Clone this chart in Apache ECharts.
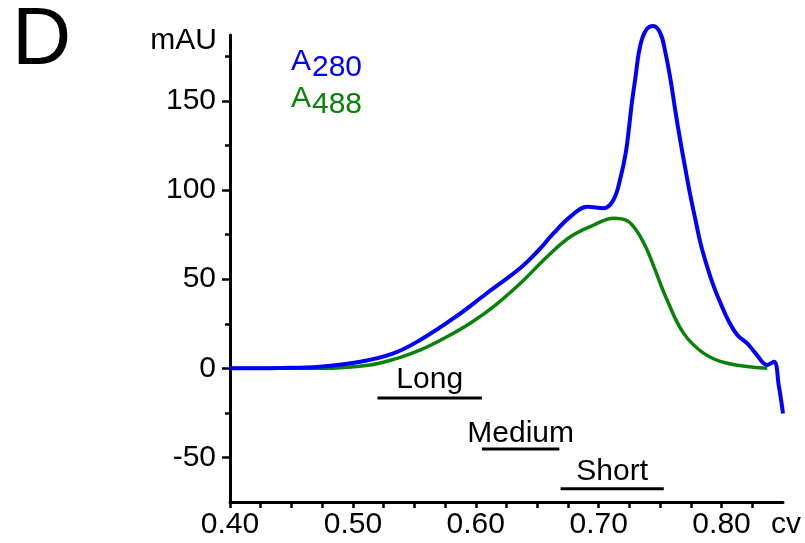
<!DOCTYPE html>
<html>
<head>
<meta charset="utf-8">
<script src="https://cdn.jsdelivr.net/npm/echarts@6/dist/echarts.min.js"></script>
<style>
  html, body { margin: 0; padding: 0; background: #fff; }
  #chart { width: 805px; height: 543px; }
</style>
</head>
<body>
<div id="chart"></div>
<script>
// A280 trace (blue), column volume vs mAU
const a280X = [0.400, 0.441, 0.473, 0.506, 0.533, 0.555, 0.582, 0.609, 0.636, 0.650,
  0.663, 0.677, 0.691, 0.704, 0.712, 0.718, 0.722, 0.7245, 0.727, 0.730,
  0.7326, 0.7354, 0.7394, 0.7444, 0.7503, 0.7544, 0.7585, 0.7625, 0.7666, 0.7707,
  0.7748, 0.7788, 0.7829, 0.7883, 0.7937, 0.7992, 0.806, 0.8128, 0.8209, 0.8277,
  0.8372, 0.8426, 0.8467, 0.850];
const a280Y = [0, 0.2, 0.9, 3.7, 8.4, 16, 28.1, 42.1, 56.1, 65.4,
  75.5, 85.1, 90.7, 89.8, 94.4, 107.6, 120.7, 133.8, 148.8, 163.6,
  176.8, 185, 190.5, 192, 187.8, 176.8, 161.8, 144, 127, 111.3,
  96.3, 83.2, 70.1, 57, 45.8, 36.5, 26.2, 18.7, 14, 8.4,
  1.9, 3.7, -10.3, -25.3];

// A488 trace (green)
const a488X = [0.400, 0.473, 0.514, 0.536, 0.555, 0.5765, 0.5955, 0.6145, 0.6363, 0.658,
  0.677, 0.696, 0.7123, 0.7232, 0.7313, 0.7394, 0.7449, 0.7557, 0.7692, 0.7856,
  0.8046, 0.8372];
const a488Y = [0, 0, 1.9, 5.6, 10.3, 17.7, 25.3, 34.6, 47.7, 62.6,
  73.8, 80.4, 84.2, 82.8, 76.7, 66.4, 57, 38.3, 19.6, 8.4,
  2.8, 0];

// fraction ranges drawn under the peaks
const rangeNames = ['Long', 'Medium', 'Short'];
const rangeStart = [0.520, 0.605, 0.669];
const rangeEnd = [0.605, 0.668, 0.753];
const rangeLevel = [-16.7, -45.3, -67.6];
const rangeLabelLevel = [-6.5, -36.5, -58.3];

// axis ticks
const xTicks = [0.4, 0.425, 0.45, 0.475, 0.5, 0.525, 0.55, 0.575, 0.6, 0.625,
  0.65, 0.675, 0.7, 0.725, 0.75, 0.775, 0.8, 0.825];
const xLabels = [0.4, 0.5, 0.6, 0.7, 0.8];
const yMajor = [-50, 0, 50, 100, 150];
const yMinor = [-25, 25, 75, 125, 175];

const FONT = 'Liberation Sans, Arial, sans-serif';
const BLUE = '#0000ff';
const GREEN = '#0a820a';

const zip = (xs, ys) => xs.map((x, i) => [x, ys[i]]);

const chart = echarts.init(document.getElementById('chart'));

const series = [
  {
    name: 'A280', type: 'line', data: zip(a280X, a280Y),
    symbol: 'none', smooth: 0.4, clip: false, z: 4,
    lineStyle: { color: BLUE, width: 4 }
  },
  {
    name: 'A488', type: 'line', data: zip(a488X, a488Y),
    symbol: 'none', smooth: 0.4, clip: false, z: 3,
    lineStyle: { color: GREEN, width: 3.5 }
  }
];

rangeNames.forEach((n, i) => {
  series.push({
    name: n, type: 'line', symbol: 'none', clip: false,
    data: [[rangeStart[i], rangeLevel[i]], [rangeEnd[i], rangeLevel[i]]],
    lineStyle: { color: '#000', width: 3 }
  });
});

series.push({
  type: 'scatter', symbolSize: 0, clip: false,
  itemStyle: { opacity: 1 },
  data: rangeNames.map((n, i) => ({
    name: n, value: [(rangeStart[i] + rangeEnd[i]) / 2, rangeLabelLevel[i]]
  })),
  label: {
    show: true, position: 'inside', formatter: '{b}', opacity: 1,
    color: '#000', textBorderWidth: 0, fontSize: 30, fontFamily: FONT
  }
});

const option = {
  animation: false,
  backgroundColor: '#fff',
  grid: { left: 230, right: 22, top: 35, bottom: 41, outerBoundsMode: 'none' },
  xAxis: {
    type: 'value', min: 0.4, max: 0.85,
    axisLine: { onZero: false, lineStyle: { color: '#000', width: 3 } },
    axisTick: { customValues: xTicks, length: 6, lineStyle: { color: '#000', width: 2.5 } },
    axisLabel: {
      customValues: xLabels, formatter: v => v.toFixed(2),
      color: '#000', fontSize: 30, fontFamily: FONT, margin: 8
    },
    splitLine: { show: false }
  },
  yAxis: [
    {
      type: 'value', min: -75, max: 187,
      axisLine: { show: true, lineStyle: { color: '#000', width: 3 } },
      axisTick: { show: true, customValues: yMajor, length: 8, lineStyle: { color: '#000', width: 2.5 } },
      axisLabel: {
        customValues: yMajor, color: '#000', fontSize: 30, fontFamily: FONT, margin: 14
      },
      splitLine: { show: false }
    },
    {
      type: 'value', min: -75, max: 187, position: 'left',
      axisLine: { show: false },
      axisTick: { show: true, customValues: yMinor, length: 5, lineStyle: { color: '#000', width: 2.5 } },
      axisLabel: { show: false },
      splitLine: { show: false }
    }
  ],
  graphic: [
    { type: 'text', x: 12, y: 41, style: { text: 'D', font: '82px ' + FONT, fill: '#000', verticalAlign: 'middle' } },
    { type: 'text', x: 217, y: 41, style: { text: 'mAU', font: '30px ' + FONT, fill: '#000', align: 'right', verticalAlign: 'middle' } },
    { type: 'text', x: 771, y: 525, style: { text: 'cv', font: '30px ' + FONT, fill: '#000', verticalAlign: 'middle' } },
    { type: 'text', x: 291, y: 62, style: { text: 'A', font: '30px ' + FONT, fill: BLUE, verticalAlign: 'middle' } },
    { type: 'text', x: 312, y: 68, style: { text: '280', font: '30px ' + FONT, fill: BLUE, verticalAlign: 'middle' } },
    { type: 'text', x: 291, y: 99, style: { text: 'A', font: '30px ' + FONT, fill: GREEN, verticalAlign: 'middle' } },
    { type: 'text', x: 312, y: 105, style: { text: '488', font: '30px ' + FONT, fill: GREEN, verticalAlign: 'middle' } }
  ],
  series: series
};

chart.setOption(option);
</script>
</body>
</html>
